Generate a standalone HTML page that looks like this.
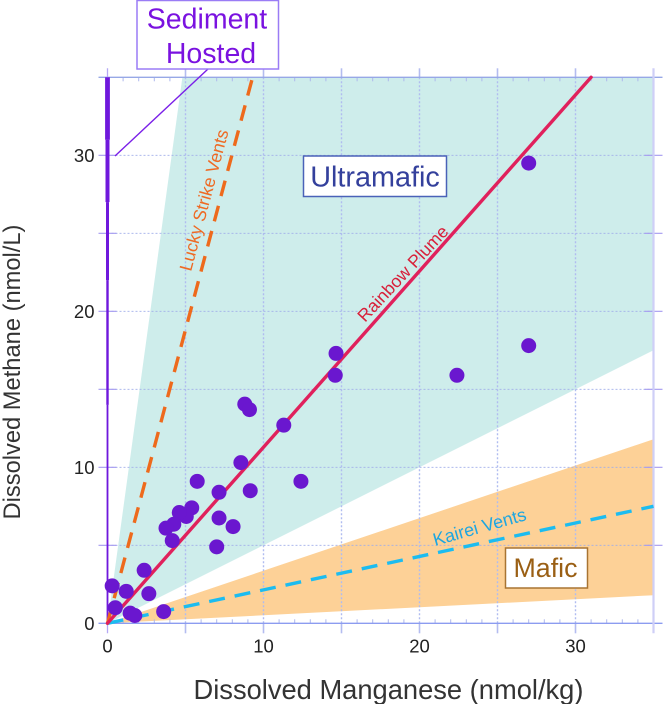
<!DOCTYPE html>
<html>
<head>
<meta charset="utf-8">
<style>
html,body{margin:0;padding:0;background:#fff;width:663px;height:704px;overflow:hidden}
svg{display:block;font-family:"Liberation Sans",Arial,sans-serif}
</style>
</head>
<body>
<svg id="chart" width="663" height="704" viewBox="0 0 663 704" xmlns="http://www.w3.org/2000/svg">
  <g id="fields"></g>
  <g id="grid"></g>
  <g id="lines"></g>
  <g id="points"></g>
  <g id="ticklabels"></g>

  <text x="388.5" y="699" font-size="27.3" fill="#333" text-anchor="middle">Dissolved Manganese (nmol/kg)</text>
  <text transform="translate(20 372) rotate(-90)" font-size="23.7" fill="#333" text-anchor="middle">Dissolved Methane (nmol/L)</text>

  <g>
    <line x1="115" y1="156" x2="208" y2="69" stroke="#7a1fe8" stroke-width="1.4"/>
    <rect x="137" y="0.5" width="141.500" height="68.5" fill="#fff" stroke="#9a7cf5" stroke-width="1.5"/>
    <text x="207" y="28.500" font-size="28.500" fill="#7a12e0" text-anchor="middle">Sediment</text>
    <text x="211" y="63" font-size="28.500" fill="#7a12e0" text-anchor="middle">Hosted</text>
  </g>

  <g>
    <rect x="303.500" y="156" width="143" height="40.500" fill="#fff" stroke="#4a62b8" stroke-width="1.500"/>
    <text x="375" y="186.500" font-size="28.800" fill="#34409c" text-anchor="middle">Ultramafic</text>
  </g>

  <g>
    <rect x="505.500" y="548" width="82" height="40" fill="#fff" stroke="#a87432" stroke-width="1.500"/>
    <text x="545.500" y="577" font-size="26.800" fill="#9a5f14" text-anchor="middle">Mafic</text>
  </g>

  <text transform="translate(191 272) rotate(-75)" font-size="17.700" fill="#ee6a24">Lucky Strike Vents</text>
  <text transform="translate(365 323) rotate(-47)" font-size="17.700" fill="#d8203a">Rainbow Plume</text>
  <text transform="translate(435 546) rotate(-15.800)" font-size="18" fill="#1fa6e0">Kairei Vents</text>
</svg>
<script>
// ---- chart data ----
const xMajorTicks = [0, 10, 20, 30];
const yMajorTicks = [0, 10, 20, 30];
const gridValues = [5, 10, 15, 20, 25, 30];
const axisMax = [35, 35];
const manganese = [27, 27, 22.4, 14.65, 14.6, 11.3, 8.8, 9.1, 8.55, 12.4, 5.75, 7.15, 9.15, 7.15, 8.05, 7.0, 5.4, 5.05, 4.6, 4.25, 3.75, 4.15, 2.35, 2.65, 1.2, 0.3, 0.5, 1.45, 1.75, 3.6];
const methane = [29.5, 17.8, 15.9, 17.3, 15.9, 12.7, 14.05, 13.7, 10.3, 9.1, 9.1, 8.4, 8.5, 6.75, 6.2, 4.9, 7.4, 6.85, 7.1, 6.35, 6.1, 5.3, 3.4, 1.9, 2.05, 2.4, 1.0, 0.65, 0.5, 0.75];
const ultramaficX = [0, 4.8, 35, 35];
const ultramaficY = [0, 35, 35, 17.5];
const maficX = [0, 35, 35];
const maficY = [0, 11.8, 1.8];
const rainbowX = [0, 31];
const rainbowY = [0, 35];
const luckyX = [0, 9.3];
const luckyY = [0, 35];
const kaireiX = [0, 35];
const kaireiY = [0, 7.5];
const sedimentY = [0, 14, 22, 27, 31, 35];

// ---- axis functions ----
const sx = v => 107.5 + v * 15.6;
const sy = v => 623.3 - v * 15.6;
const NS = 'http://www.w3.org/2000/svg';
function mk(tag, parent, attrs) {
  const el = document.createElementNS(NS, tag);
  for (const k in attrs) el.setAttribute(k, attrs[k]);
  parent.appendChild(el);
  return el;
}
const pts = (xs, ys) => xs.map((x, i) => sx(x) + ',' + sy(ys[i])).join(' ');

// fields
const fields = document.getElementById('fields');
const ultra = mk('polygon', fields, {points: pts(ultramaficX, ultramaficY), fill: '#ceedeb'});


const maf = mk('polygon', fields, {points: pts(maficX, maficY), fill: '#fdd197'});



// grid
const grid = document.getElementById('grid');
gridValues.forEach(v => {
  const gv = mk('line', grid, {x1: sx(v), x2: sx(v), y1: sy(0), y2: sy(axisMax[1]), stroke: '#b0bcf0', 'stroke-width': 1.4, 'stroke-dasharray': '2 2'});
  
  
  const gh = mk('line', grid, {x1: sx(0), x2: sx(axisMax[0]), y1: sy(v), y2: sy(v), stroke: '#a0aeea', 'stroke-width': 0.9, 'stroke-dasharray': '2 2'});
  
  
  [[sx(v), sy(0), sx(v), sy(0) + 10], [sx(v), sy(axisMax[1]) - 9, sx(v), sy(axisMax[1])]].forEach(c => {
    const t = mk('line', grid, {x1: c[0], y1: c[1], x2: c[2], y2: c[3], stroke: '#b4bcf0', 'stroke-width': 1.6});
    
    
  });
  [[sx(0) - 9, sx(0) + 9], [sx(axisMax[0]) - 9, sx(axisMax[0]) + 9]].forEach(c => {
    const t = mk('line', grid, {x1: c[0], y1: sy(v), x2: c[1], y2: sy(v), stroke: '#a49af0', 'stroke-width': 1.2});
    
    
  });
});
for (let i = 1; i < axisMax[0]; i++) {
  if (i % 5 === 0) continue;
  [[sy(0) - 4, sy(0)], [sy(axisMax[1]), sy(axisMax[1]) + 4]].forEach(c => {
    const t = mk('line', grid, {x1: sx(i), x2: sx(i), y1: c[0], y2: c[1], stroke: '#aeb8ec', 'stroke-width': 1});
    
    
  });
}
const axisSpecs = [
  ['x-axis-bottom', sx(0) - 9, sy(0), sx(axisMax[0]) + 9, sy(0), '#8c9cf0', 1.3],
  ['x-axis-top', sx(0) - 9, sy(axisMax[1]), sx(axisMax[0]) + 9, sy(axisMax[1]), '#97a8e6', 1.3],
  ['y-axis-left', sx(0), sy(0) + 10, sx(0), sy(axisMax[1]) - 9, '#b4a8f4', 1.3],
  ['y-axis-right', sx(axisMax[0]), sy(0) + 10, sx(axisMax[0]), sy(axisMax[1]) - 9, '#cfcff7', 2.2]
];
axisSpecs.forEach(a => {
  const l = mk('line', grid, {x1: a[1], y1: a[2], x2: a[3], y2: a[4], stroke: a[5], 'stroke-width': a[6]});
  
  
});

// trend lines
const lines = document.getElementById('lines');
const sedimentWidths = [1.8, 2.4, 3, 4, 4.8];
sedimentWidths.forEach((w, i) => {
  const s = mk('line', lines, {x1: sx(0), y1: sy(sedimentY[i]), x2: sx(0), y2: sy(sedimentY[i + 1]), stroke: '#6f18dc', 'stroke-width': w});
  
  
});
const lucky = mk('line', lines, {x1: sx(luckyX[0]), y1: sy(luckyY[0]), x2: sx(luckyX[1]), y2: sy(luckyY[1]), stroke: '#ee6a1c', 'stroke-width': 3.4, 'stroke-dasharray': '16 10'});


const kairei = mk('line', lines, {x1: sx(kaireiX[0]), y1: sy(kaireiY[0]), x2: sx(kaireiX[1]), y2: sy(kaireiY[1]), stroke: '#1cbcf0', 'stroke-width': 3.4, 'stroke-dasharray': '16 10'});


const rainbow = mk('line', lines, {x1: sx(rainbowX[0]), y1: sy(rainbowY[0]), x2: sx(rainbowX[1]), y2: sy(rainbowY[1]), stroke: '#e0215c', 'stroke-width': 3.4, 'stroke-linecap': 'round'});



// points
const points = document.getElementById('points');
manganese.forEach((m, i) => {
  const c = mk('circle', points, {cx: sx(m), cy: sy(methane[i]), r: 7.5, fill: '#6a17cf'});
  
  
});

// tick labels
const tl = document.getElementById('ticklabels');
xMajorTicks.forEach(v => {
  const t = mk('text', tl, {x: sx(v), y: sy(0) + 29, 'font-size': 18.5, 'text-anchor': 'middle', fill: '#222'});
  t.textContent = v;
  
  
});
yMajorTicks.forEach(v => {
  const t = mk('text', tl, {x: sx(0) - 13, y: sy(v) + 6.5, 'font-size': 18.5, 'text-anchor': 'end', fill: '#222'});
  t.textContent = v;
  
  
});
</script>
</body>
</html>
